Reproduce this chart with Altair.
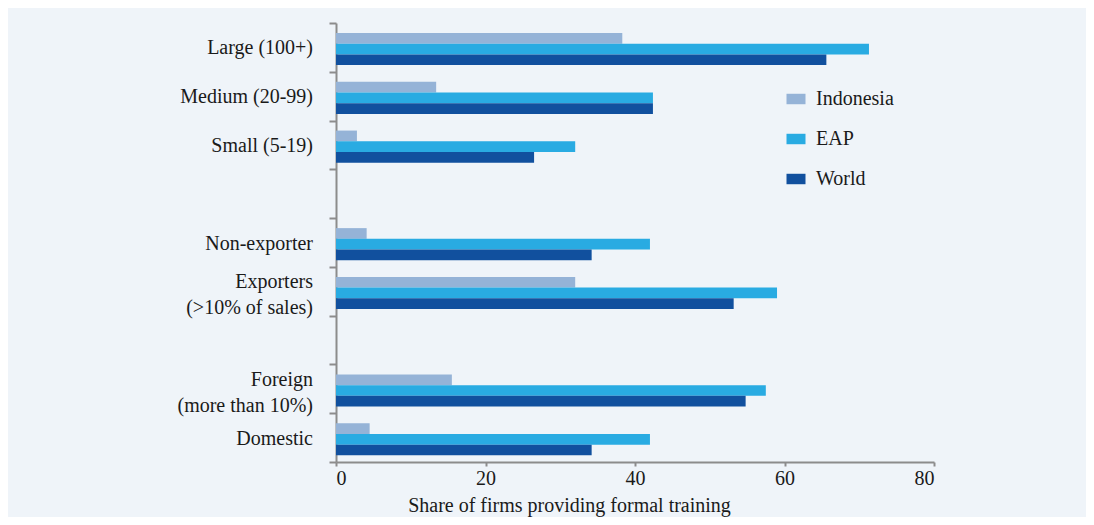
import altair as alt
import pandas as pd

categories = ["Large (100+)", "Medium (20-99)", "Small (5-19)", " ",
              "Non-exporter", "Exporters|(>10% of sales)", "  ",
              "Foreign|(more than 10%)", "Domestic"]
series = ["Indonesia", "EAP", "World"]
indonesia = [38.3, 13.4, 2.8, None, 4.1, 32.0, None, 15.5, 4.5]
eap = [71.3, 42.4, 32.0, None, 42.0, 59.0, None, 57.5, 42.0]
world = [65.6, 42.4, 26.5, None, 34.2, 53.2, None, 54.8, 34.2]
colors = ["#95B3D7", "#29ABE2", "#11509E"]
x_ticks = [0, 20, 40, 60, 80]

rows = []
for s, vals in zip(series, [indonesia, eap, world]):
    for c, v in zip(categories, vals):
        if v is not None:
            rows.append({"category": c, "series": s, "value": v})
df = pd.DataFrame(rows)

label_rows = []
for c in categories:
    parts = c.split("|")
    if len(parts) == 1:
        label_rows.append({"category": c, "text": parts[0], "kind": "single"})
    else:
        label_rows.append({"category": c, "text": parts[0], "kind": "first"})
        label_rows.append({"category": c, "text": parts[1], "kind": "second"})
labels_df = pd.DataFrame(label_rows)

FONT = "Liberation Serif"
AXIS_GRAY = "#8C8C8C"
TXT = "#1A1A1A"

y_enc = alt.Y("category:N", sort=categories,
              scale=alt.Scale(domain=categories, paddingInner=0, paddingOuter=0),
              axis=alt.Axis(title=None, labels=False, tickBand="extent", tickSize=7,
                            tickColor=AXIS_GRAY, tickWidth=2,
                            domainColor=AXIS_GRAY, domainWidth=2))

bars = alt.Chart(df).mark_bar().encode(
    y=y_enc,
    yOffset=alt.YOffset("series:N", sort=series,
                        scale=alt.Scale(domain=series, paddingInner=0, paddingOuter=0.78, align=0.6)),
    x=alt.X("value:Q", scale=alt.Scale(domain=[0, 80], nice=False),
            axis=alt.Axis(values=x_ticks, grid=False, tickSize=4, tickColor=AXIS_GRAY,
                          tickWidth=2, domainColor=AXIS_GRAY, domainWidth=2,
                          labelFont=FONT, labelFontSize=20, labelColor=TXT,
                          labelPadding=2,
                          title="Share of firms providing formal training",
                          titleFont=FONT, titleFontSize=20, titleFontWeight="normal",
                          titleColor=TXT, titleX=233, titleY=43,
                          titleAlign="center", titleBaseline="middle")),
    color=alt.Color("series:N", sort=series,
                    scale=alt.Scale(domain=series, range=colors),
                    legend=alt.Legend(title=None, orient="none", legendX=450, legendY=66,
                                      symbolType="M-1,-0.55L1,-0.55L1,0.55L-1,0.55Z",
                                      symbolSize=361, symbolStrokeWidth=0,
                                      labelFont=FONT, labelFontSize=20, labelColor=TXT,
                                      labelOffset=10, rowPadding=20)),
)


def label_layer(kind, dy):
    return alt.Chart(labels_df).transform_filter(
        alt.datum.kind == kind
    ).mark_text(align="right", baseline="middle", font=FONT, fontSize=20,
                color=TXT, dy=dy).encode(
        y=alt.Y("category:N", sort=categories),
        x=alt.value(-23),
        text="text:N",
    )


chart = alt.layer(
    bars,
    label_layer("single", 1),
    label_layer("first", -9),
    label_layer("second", 17),
).properties(
    width=598, height=439,
    autosize=alt.AutoSizeParams(type="none"),
    padding={"left": 328, "top": 15, "right": 152, "bottom": 55},
    background="#EFF4F9",
).configure_view(stroke=None)

chart.save("out.html", embed_options={"renderer": "svg", "actions": False})
